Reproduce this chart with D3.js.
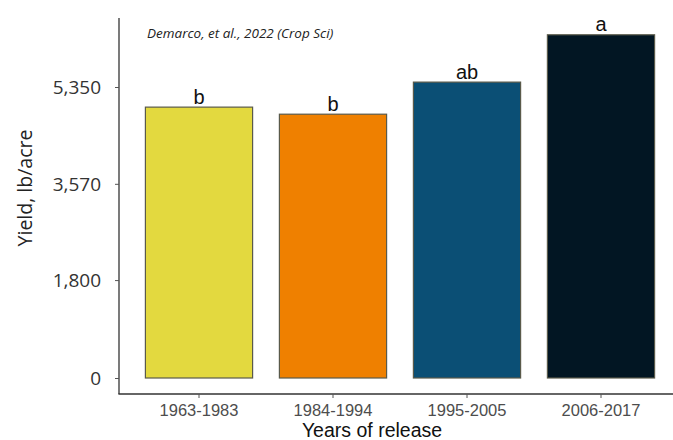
<!DOCTYPE html>
<html>
<head>
<meta charset="utf-8">
<script src="https://cdn.jsdelivr.net/npm/d3@7"></script>
<style>
  html, body { margin: 0; padding: 0; background: #fff; }
  svg { display: block; }
</style>
</head>
<body>
<svg id="chart" width="673" height="440"></svg>
<script>
// Release-era groups and mean yield (lb/acre)
const categories = ["1963-1983", "1984-1994", "1995-2005", "2006-2017"];
const yields = [4980, 4850, 5440, 6310];
const groupLetters = ["b", "b", "ab", "a"];
const barColors = ["#e3d93f", "#ef8000", "#0b4f75", "#021623"];
const yTicks = [0, 1800, 3570, 5350];
const yTickLabels = ["0", "1,800", "3,570", "5,350"];

const svg = d3.select("#chart");

const axisX = 119;      // y-axis line position
const axisBottom = 394; // x-axis line position
const axisTop = 18;

const x = d3.scaleBand()
  .domain(categories)
  .range([118.6, 681.4])
  .paddingInner(0.2)
  .paddingOuter(0.2);

const y = d3.scaleLinear()
  .domain([0, 5350])
  .range([378, 87]);

// Axis lines
svg.append("line")
  .attr("x1", axisX).attr("x2", axisX)
  .attr("y1", axisTop).attr("y2", axisBottom)
  .attr("stroke", "#333").attr("stroke-width", 1.3);
svg.append("line")
  .attr("x1", axisX - 0.6).attr("x2", 673)
  .attr("y1", axisBottom).attr("y2", axisBottom)
  .attr("stroke", "#333").attr("stroke-width", 1.3);

// Y axis ticks and labels
const yAxis = d3.axisLeft(y)
  .tickValues(yTicks)
  .tickFormat((d, i) => yTickLabels[i])
  .tickSize(4)
  .tickPadding(14);
const gy = svg.append("g").attr("transform", `translate(${axisX},0)`).call(yAxis);
gy.select(".domain").remove();
gy.selectAll(".tick line").attr("stroke", "#555");
gy.selectAll(".tick text")
  .attr("font-family", "'Open Sans', sans-serif")
  .attr("font-size", 19)
  .attr("fill", "#333")
  .attr("dy", "0.36em");

// X axis ticks and labels
const xAxis = d3.axisBottom(x).tickSize(4).tickPadding(6);
const gx = svg.append("g").attr("transform", `translate(0,${axisBottom})`).call(xAxis);
gx.select(".domain").remove();
gx.selectAll(".tick line").attr("stroke", "#555");
gx.selectAll(".tick text")
  .attr("font-family", "'Liberation Sans', Arial, sans-serif")
  .attr("font-size", 16.5)
  .attr("fill", "#4d4d4d");

// Bars
svg.append("g").selectAll("rect")
  .data(categories)
  .join("rect")
  .attr("x", d => x(d))
  .attr("width", x.bandwidth())
  .attr("y", (d, i) => y(yields[i]))
  .attr("height", (d, i) => y(0) - y(yields[i]))
  .attr("fill", (d, i) => barColors[i])
  .attr("stroke", "#5a5a4a")
  .attr("stroke-width", 1.2);

// Significance letters
svg.append("g").selectAll("text")
  .data(categories)
  .join("text")
  .attr("x", d => x(d) + x.bandwidth() / 2)
  .attr("y", (d, i) => y(yields[i]) - 3.5)
  .attr("text-anchor", "middle")
  .attr("font-family", "'Liberation Sans', Arial, sans-serif")
  .attr("font-size", 20)
  .attr("fill", "#111")
  .text((d, i) => groupLetters[i]);

// Citation
svg.append("text")
  .attr("x", 147).attr("y", 38)
  .attr("font-family", "'Open Sans', sans-serif")
  .attr("font-style", "italic")
  .attr("font-size", 13.5)
  .attr("fill", "#222")
  .text("Demarco, et al., 2022 (Crop Sci)");

// Axis titles
svg.append("text")
  .attr("x", 372).attr("y", 437)
  .attr("text-anchor", "middle")
  .attr("font-family", "'Liberation Sans', Arial, sans-serif")
  .attr("font-size", 19.5)
  .attr("fill", "#111")
  .text("Years of release");

svg.append("text")
  .attr("transform", "translate(32,188) rotate(-90)")
  .attr("text-anchor", "middle")
  .attr("font-family", "'Open Sans', sans-serif")
  .attr("font-size", 19.5)
  .attr("fill", "#222")
  .text("Yield, lb/acre");
</script>
</body>
</html>
